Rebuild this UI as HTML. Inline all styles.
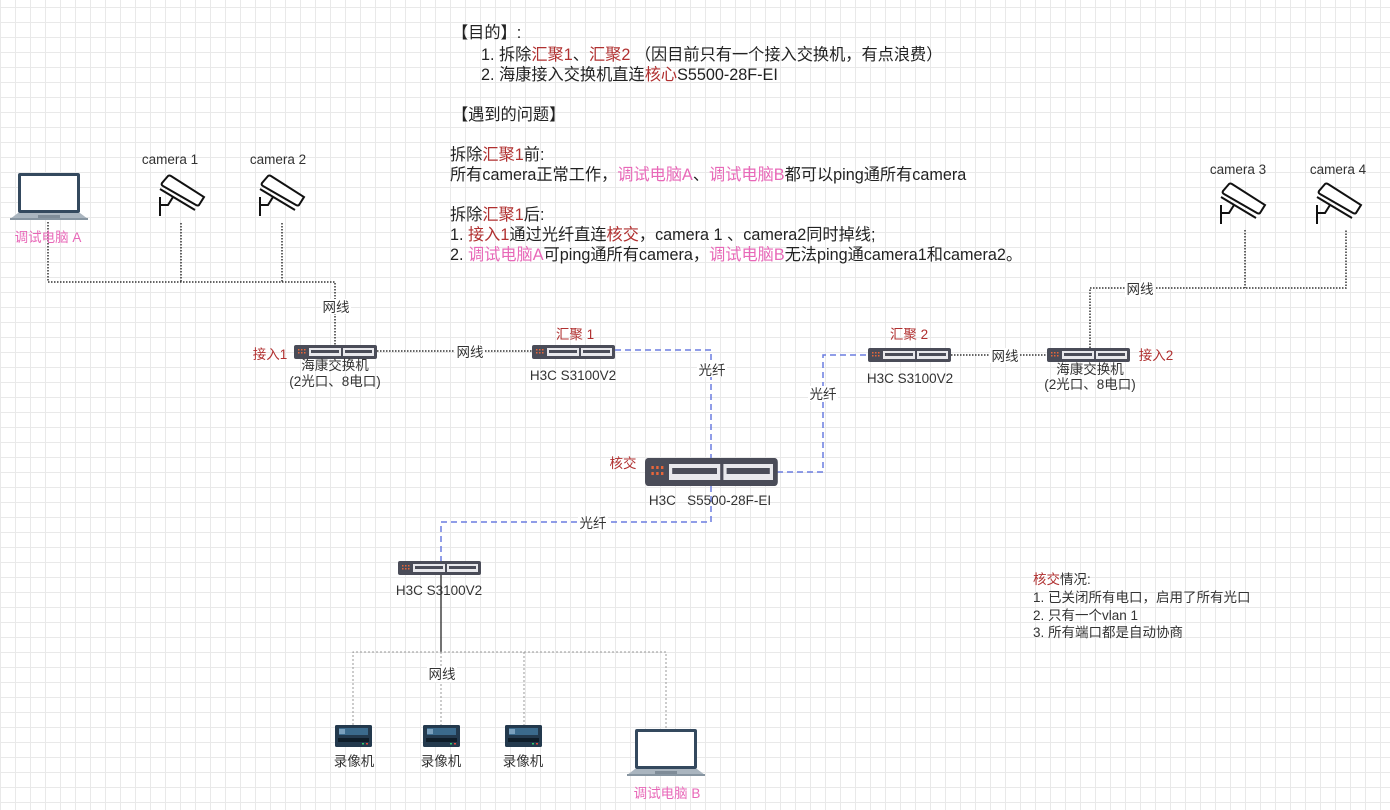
<!DOCTYPE html>
<html><head><meta charset="utf-8"><style>
html,body{margin:0;padding:0;background:#fff;}
body{width:1390px;height:810px;overflow:hidden;position:relative;
background-image:linear-gradient(#e9e9e9 1px,transparent 1px),linear-gradient(90deg,#e9e9e9 1px,transparent 1px);
background-size:15px 15px;background-position:0 7px;}
svg{position:absolute;left:0;top:0;}
text{font-family:"Liberation Sans","Noto Sans CJK SC",sans-serif;}
.t{font-size:16.2px;fill:#222;}
.s{font-size:13.5px;fill:#333;}
.r{fill:#b03030;}
.p{fill:#e868b8;}
</style></head><body>
<svg width="1390" height="810" viewBox="0 0 1390 810">
<defs>
<g id="sw">
<rect x="0" y="0" width="83" height="14" rx="2" fill="#4a4c58"/>
<g fill="#e8663a"><rect x="4" y="4" width="1.5" height="1.5"/><rect x="7" y="4" width="1.5" height="1.5"/><rect x="10" y="4" width="1.5" height="1.5"/><rect x="4" y="7" width="1.5" height="1.5"/><rect x="7" y="7" width="1.5" height="1.5"/><rect x="10" y="7" width="1.5" height="1.5"/></g>
<rect x="15" y="3" width="32" height="8" fill="#e8e8ec"/>
<rect x="49" y="3" width="31" height="8" fill="#e8e8ec"/>
<g fill="#4a4c58"><rect x="17" y="5" width="28" height="3"/><rect x="51" y="5" width="27" height="3"/></g>
</g>
<g id="cam" fill="none" stroke="#111" stroke-width="2">
<path d="M4,8 L10,1 Q11,0 13,1 L46,22 L41,30 Q40,31 38,30 L5,11 Q3,10 4,8 Z" fill="#fff"/>
<path d="M2,14 L37,35"/>
<path d="M2,22 V41 M2,30 H10 L15,22"/>
</g>
<g id="lap">
<rect x="8" y="0" width="62" height="40" rx="2" fill="#34495e"/>
<rect x="11" y="3" width="56" height="34" fill="#fff"/>
<path d="M0,46 L8,40 H70 L78,46 Z" fill="#aab5bf"/>
<rect x="0" y="45" width="78" height="2" fill="#8795a1"/>
<rect x="28" y="42" width="22" height="3" fill="#7f8c98"/>
</g>
<g id="nvr">
<rect x="0" y="0" width="37" height="22" rx="1.5" fill="#23394d"/>
<rect x="4" y="3" width="29" height="7" fill="#3b6a8c"/>
<rect x="4" y="4" width="6" height="5" fill="#7aa0bd"/>
<rect x="3" y="13" width="31" height="4" fill="#0f1d29"/>
<rect x="27" y="18" width="2" height="1.5" fill="#2ecc71"/><rect x="31" y="18" width="2" height="1.5" fill="#e74c3c"/>
</g>
</defs>

<text class="t" x="452" y="38">【目的】:</text>
<text class="t" x="481" y="60">1. 拆除<tspan class="r">汇聚1</tspan>、<tspan class="r">汇聚2</tspan> （因目前只有一个接入交换机，有点浪费）</text>
<text class="t" x="481" y="80">2. 海康接入交换机直连<tspan class="r">核心</tspan>S5500-28F-EI</text>
<text class="t" x="452" y="120">【遇到的问题】</text>
<text class="t" x="450" y="160">拆除<tspan class="r">汇聚1</tspan>前:</text>
<text class="t" x="450" y="180">所有camera正常工作，<tspan class="p">调试电脑A</tspan>、<tspan class="p">调试电脑B</tspan>都可以ping通所有camera</text>
<text class="t" x="450" y="220">拆除<tspan class="r">汇聚1</tspan>后:</text>
<text class="t" x="450" y="240">1. <tspan class="r">接入1</tspan>通过光纤直连<tspan class="r">核交</tspan>，camera 1 、camera2同时掉线;</text>
<text class="t" x="450" y="260">2. <tspan class="p">调试电脑A</tspan>可ping通所有camera，<tspan class="p">调试电脑B</tspan>无法ping通camera1和camera2。</text>

<g fill="none" stroke="#333" stroke-width="1.5" stroke-dasharray="1.5 1.5">
<path d="M48,222 V282 H335 V345"/>
<path d="M181,223 V282"/><path d="M282,223 V282"/>
<path d="M377,351 H532"/>
<path d="M951,355 H1047"/>
<path d="M1090,348 V288 H1346 V230"/>
<path d="M1245,230 V288"/>
</g>
<g fill="none" stroke="#6b7de0" stroke-width="1.5" stroke-dasharray="6 4">
<path d="M615,350 H711 V458"/>
<path d="M777,472 H823 V355 H868"/>
<path d="M711,486 V522 H441 V561"/>
</g>
<path d="M441,575 V652" stroke="#444" stroke-width="1.5" fill="none"/>
<g fill="none" stroke="#999" stroke-width="1" stroke-dasharray="2 2">
<path d="M353,725 V652 H666 V729"/>
<path d="M441,652 V725"/><path d="M524,652 V725"/>
</g>

<g text-anchor="middle">
<rect x="321" y="299" width="30" height="15" fill="#fff"/><text x="336" y="312" class="s">网线</text>
<rect x="455" y="344" width="30" height="15" fill="#fff"/><text x="470" y="357" class="s">网线</text>
<rect x="990" y="348" width="30" height="15" fill="#fff"/><text x="1005" y="361" class="s">网线</text>
<rect x="1125" y="282" width="30" height="15" fill="#fff"/><text x="1140" y="294" class="s">网线</text>
<rect x="427" y="667" width="30" height="15" fill="#fff"/><text x="442" y="679" class="s">网线</text>
<rect x="697" y="362" width="30" height="15" fill="#fff"/><text x="712" y="375" class="s">光纤</text>
<rect x="808" y="386" width="30" height="15" fill="#fff"/><text x="823" y="399" class="s">光纤</text>
<rect x="578" y="516" width="30" height="15" fill="#fff"/><text x="593" y="528" class="s">光纤</text>
</g>

<use href="#lap" x="10" y="173"/>
<use href="#lap" x="627" y="729"/>
<use href="#cam" x="158" y="175"/>
<use href="#cam" x="258" y="175"/>
<use href="#cam" x="1219" y="183"/>
<use href="#cam" x="1315" y="183"/>
<use href="#sw" x="294" y="345"/>
<use href="#sw" x="532" y="345"/>
<use href="#sw" x="868" y="348"/>
<use href="#sw" x="1047" y="348"/>
<use href="#sw" x="398" y="561"/>
<use href="#sw" transform="translate(645,458) scale(1.6,2)"/>
<use href="#nvr" x="335" y="725"/>
<use href="#nvr" x="423" y="725"/>
<use href="#nvr" x="505" y="725"/>

<g text-anchor="middle">
<text x="48" y="242" class="s p">调试电脑 A</text>
<text x="170" y="164" class="s">camera 1</text>
<text x="278" y="164" class="s">camera 2</text>
<text x="1238" y="174" class="s">camera 3</text>
<text x="1338" y="174" class="s">camera 4</text>
<text x="270" y="359" class="s r">接入1</text>
<text x="335" y="370" class="s">海康交换机</text>
<text x="335" y="386" class="s">(2光口、8电口)</text>
<text x="575" y="339" class="s r">汇聚 1</text>
<text x="573" y="380" class="s">H3C S3100V2</text>
<text x="909" y="339" class="s r">汇聚 2</text>
<text x="910" y="383" class="s">H3C S3100V2</text>
<text x="1156" y="360" class="s r">接入2</text>
<text x="1090" y="374" class="s">海康交换机</text>
<text x="1090" y="389" class="s">(2光口、8电口)</text>
<text x="623" y="468" class="s r">核交</text>
<text x="710" y="505" class="s" xml:space="preserve">H3C   S5500-28F-EI</text>
<text x="439" y="595" class="s">H3C S3100V2</text>
<text x="354" y="766" class="s">录像机</text>
<text x="441" y="766" class="s">录像机</text>
<text x="523" y="766" class="s">录像机</text>
<text x="667" y="798" class="s p">调试电脑 B</text>
</g>

<text class="s" x="1033" y="584"><tspan class="r">核交</tspan>情况:</text>
<text class="s" x="1033" y="602">1. 已关闭所有电口，启用了所有光口</text>
<text class="s" x="1033" y="620">2. 只有一个vlan 1</text>
<text class="s" x="1033" y="637">3. 所有端口都是自动协商</text>
</svg>
</body></html>
